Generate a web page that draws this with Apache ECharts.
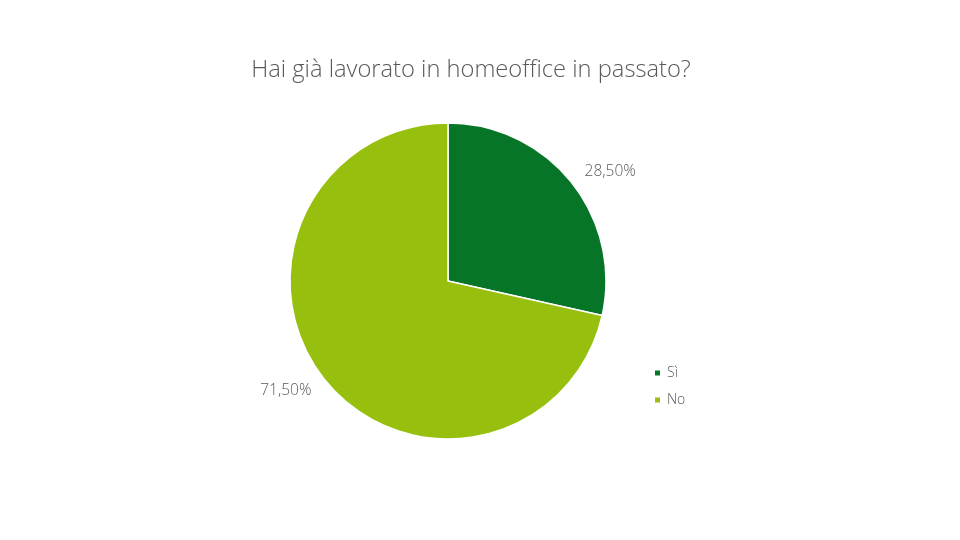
<!DOCTYPE html>
<html>
<head>
<meta charset="utf-8">
<script src="https://cdn.jsdelivr.net/npm/echarts@6/dist/echarts.min.js"></script>
<style>
  html, body { margin: 0; padding: 0; background: #fff; }
  #main { width: 960px; height: 540px; }
</style>
</head>
<body>
<div id="main"></div>
<script>
// dati del grafico
const categories = ["Sì", "No"]
const values = [28.5, 71.5]
const colors = ["#077527", "#97c00e"]

const chart = echarts.init(document.getElementById('main'))

const data = categories.map((name, i) => ({
  name: name,
  value: values[i],
  itemStyle: { color: colors[i] }
}))

const option = {
  animation: false,
  title: {
    text: 'Hai già lavorato in homeoffice in passato?',
    left: 466,
    textAlign: 'center',
    top: 53,
    textStyle: {
      fontFamily: 'Open Sans',
      fontWeight: 300,
      fontSize: 23.7,
      color: '#595959'
    }
  },
  legend: {
    orient: 'vertical',
    left: 653,
    top: 366,
    padding: 0,
    itemWidth: 7,
    itemHeight: 7,
    itemGap: 13,
    icon: 'rect',
    data: categories,
    textStyle: {
      fontFamily: 'Open Sans',
      fontWeight: 300,
      fontSize: 14,
      color: '#595959',
      padding: [0, 0, 0, 1]
    }
  },
  series: [
    {
      type: 'pie',
      center: [448, 281],
      radius: 158,
      startAngle: 90,
      clockwise: true,
      data: data,
      itemStyle: { borderColor: '#fff', borderWidth: 1.5 },
      label: {
        position: 'outside',
        distanceToLabelLine: 0,
        formatter: p => p.value.toFixed(2).replace('.', ',') + '%',
        fontFamily: 'Open Sans',
        fontWeight: 300,
        fontSize: 15.5,
        color: '#595959'
      },
      labelLine: { show: false, length: 17, length2: 0 },
      emphasis: { disabled: true }
    }
  ]
}

chart.setOption(option)
</script>
</body>
</html>
